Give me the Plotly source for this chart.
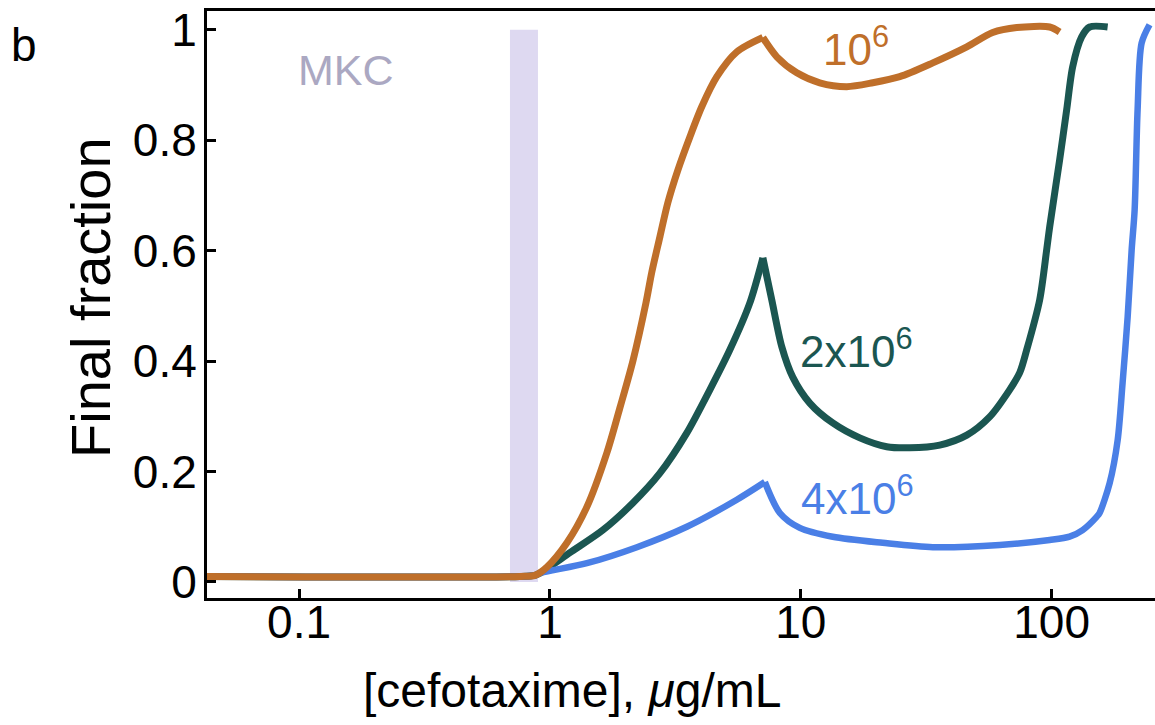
import plotly.graph_objects as go

# ---------------- data ----------------
conc_1e6 = [0.0425, 0.759, 0.871, 0.973, 1.169, 1.404, 1.687, 1.900, 2.141, 2.413, 2.55, 2.744,
            2.952, 3.236, 3.613, 4.033, 4.628, 5.559, 7.06, 8.025, 9.64, 11.9, 15.25, 19.36,
            24.8, 33.6, 45.9, 58.2, 72.6, 98.2, 107.6]
frac_1e6 = [0.010, 0.010, 0.012, 0.027, 0.071, 0.136, 0.234, 0.315, 0.400, 0.505, 0.562, 0.625,
            0.687, 0.746, 0.806, 0.861, 0.915, 0.960, 0.986, 0.951, 0.922, 0.904, 0.897, 0.904,
            0.915, 0.940, 0.969, 0.995, 1.004, 1.005, 0.996]

conc_2e6 = [0.0425, 0.759, 0.871, 0.912, 1.201, 1.626, 2.141, 2.744, 3.514, 4.34, 5.21, 6.26,
            7.06, 7.66, 8.40, 9.29, 10.86, 13.41, 17.19, 22.0, 27.2, 35.8, 45.9, 56.6, 68.0,
            74.6, 79.5, 89.6, 95.5, 98.2, 107.6, 114.8, 121.3, 131.7, 141.7, 167.2]
frac_2e6 = [0.010, 0.010, 0.012, 0.016, 0.053, 0.094, 0.143, 0.197, 0.270, 0.348, 0.420, 0.505,
            0.587, 0.511, 0.426, 0.371, 0.324, 0.288, 0.261, 0.245, 0.243, 0.248, 0.266, 0.299,
            0.348, 0.379, 0.420, 0.511, 0.601, 0.643, 0.764, 0.855, 0.933, 0.987, 1.005, 1.005]

conc_4e6 = [0.0425, 0.759, 0.871, 0.912, 1.404, 2.222, 3.514, 5.559, 7.19, 8.25, 9.91, 13.41,
            21.2, 33.6, 62.1, 98.2, 117.9, 132.9, 151.1, 155.3, 170.3, 183.3, 191.8, 200.9,
            208.4, 214.2, 220.1, 228.4, 245.6]
frac_4e6 = [0.010, 0.010, 0.012, 0.016, 0.034, 0.063, 0.100, 0.149, 0.181, 0.125, 0.098, 0.082,
            0.071, 0.063, 0.067, 0.076, 0.082, 0.094, 0.118, 0.125, 0.179, 0.257, 0.361, 0.480,
            0.601, 0.674, 0.855, 0.976, 1.009]

mkc_band = [0.693, 0.896]          # MKC shaded band (cefotaxime, ug/mL)
x_tickvals = [0.1, 1, 10, 100]
x_ticktext = ["0.1", "1", "10", "100"]
y_tickvals = [0, 0.2, 0.4, 0.6, 0.8, 1.0]
y_ticktext = ["0", "0.2", "0.4", "0.6", "0.8", "1"]

# ---------------- styling ----------------
FONT = "Liberation Sans, Arial, Helvetica, sans-serif"
C_ORANGE = "#BF6F2A"
C_TEAL = "#1B5651"
C_BLUE = "#4A7FE6"
C_BAND = "#DED9F1"
C_MKC = "#ABA8C2"

fig = go.Figure()

fig.add_trace(go.Scatter(
    x=[mkc_band[0], mkc_band[0], mkc_band[1], mkc_band[1]], y=[0, 1, 1, 0],
    fill="toself", fillcolor=C_BAND, mode="lines", line=dict(width=0),
    hoverinfo="skip", showlegend=False))


def add_curve(xs, ys, color, width):
    # split at the sharp peak so that each smooth piece keeps the cusp
    k = max(range(len(xs)), key=lambda i: ys[i] if xs[i] < 20 else -1)
    for seg in (slice(0, k + 1), slice(k, len(xs))):
        fig.add_trace(go.Scatter(
            x=xs[seg], y=ys[seg], mode="lines",
            line=dict(color=color, width=width, shape="spline", smoothing=0.8),
            showlegend=False, hoverinfo="x+y"))


add_curve(conc_2e6, frac_2e6, C_TEAL, 7)
add_curve(conc_4e6, frac_4e6, C_BLUE, 6.5)
add_curve(conc_1e6, frac_1e6, C_ORANGE, 7)

W, H = 1155, 725
L, R, T, B = 207, 0, 11, 127
pw, ph = W - L - R, H - T - B


def px(xp):
    return (xp - L) / pw


def py(yp):
    return (H - B - yp) / ph


annotations = [
    dict(text="b", x=px(24), y=py(45), font=dict(size=46, color="black")),
    dict(text="MKC", x=px(346), y=py(70), font=dict(size=43, color=C_MKC)),
    dict(text="10<sup>6</sup>", x=px(856), y=py(46), font=dict(size=44, color=C_ORANGE)),
    dict(text="2x10<sup>6</sup>", x=px(856), y=py(348), font=dict(size=44, color=C_TEAL)),
    dict(text="4x10<sup>6</sup>", x=px(857), y=py(495), font=dict(size=44, color=C_BLUE)),
    dict(text="Final fraction", x=px(90), y=py(298), textangle=-90,
         font=dict(size=56, color="black")),
    dict(text="[cefotaxime], <i>μ</i>g/mL", x=px(572), y=py(690),
         font=dict(size=48, color="black")),
]
for a in annotations:
    a.update(xref="paper", yref="paper", showarrow=False, xanchor="center", yanchor="middle")

fig.update_layout(
    width=W, height=H,
    margin=dict(l=L, r=R, t=T, b=B, pad=0),
    paper_bgcolor="white", plot_bgcolor="white",
    font=dict(family=FONT, color="black"),
    annotations=annotations,
    showlegend=False,
)

fig.update_xaxes(
    type="log", range=[-1.367, 2.412],
    tickvals=x_tickvals, ticktext=x_ticktext,
    ticks="inside", ticklen=9, tickwidth=3, tickcolor="black",
    showline=True, linecolor="black", linewidth=3, mirror=True,
    showgrid=False, zeroline=False,
    tickfont=dict(size=46, family=FONT, color="black"),
    ticklabelstandoff=-18,
)
fig.update_yaxes(
    range=[-0.029, 1.034],
    tickvals=y_tickvals, ticktext=y_ticktext,
    ticks="inside", ticklen=9, tickwidth=3, tickcolor="black",
    showline=True, linecolor="black", linewidth=3,
    showgrid=False, zeroline=False,
    tickfont=dict(size=46, family=FONT, color="black"),
    ticklabelstandoff=-2,
)

fig.write_html("out.html")
